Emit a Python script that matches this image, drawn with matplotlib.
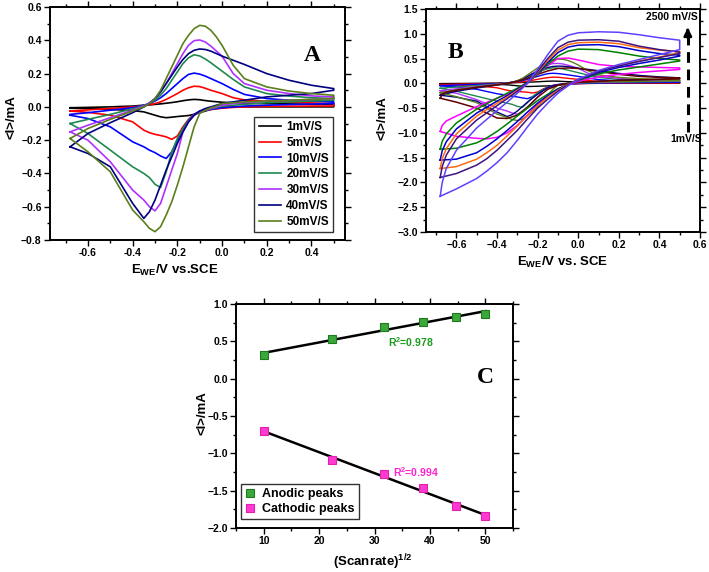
import numpy as np
import matplotlib
matplotlib.use('Agg')
import matplotlib.pyplot as plt
from matplotlib.ticker import MultipleLocator

plt.rcParams['font.family'] = ['Liberation Sans', 'DejaVu Sans']
plt.rcParams['font.weight'] = 'bold'
plt.rcParams['axes.labelweight'] = 'bold'
plt.rcParams['mathtext.fontset'] = 'custom'
plt.rcParams['mathtext.rm'] = 'Liberation Sans:bold'
plt.rcParams['mathtext.bf'] = 'Liberation Sans:bold'
plt.rcParams['mathtext.default'] = 'rm'

# ---- panel A / slow scans (potential grids in V vs SCE) ----
E_UP = [-0.68, -0.6, -0.5, -0.4, -0.35, -0.325, -0.3, -0.275, -0.25, -0.225, -0.2, -0.175, -0.15,
        -0.125, -0.1, -0.075, -0.05, -0.025, 0.0, 0.05, 0.1, 0.2, 0.3, 0.4, 0.5]
E_DOWN = [0.5, 0.4, 0.3, 0.2, 0.1, 0.05, 0.0, -0.025, -0.05, -0.075, -0.1, -0.125, -0.15, -0.175,
          -0.2, -0.225, -0.25, -0.275, -0.3, -0.325, -0.35, -0.4, -0.5, -0.6, -0.68]

up_1 = [-0.005, -0.003, 0.0, 0.005, 0.01, 0.012, 0.015, 0.018, 0.022, 0.026, 0.031, 0.037, 0.042,
        0.045, 0.043, 0.038, 0.034, 0.031, 0.028, 0.025, 0.022, 0.02, 0.018, 0.016, 0.015]
dn_1 = [0.0, 0.0, 0.0, 0.0, 0.0, 0.0, -0.003, -0.008, -0.015, -0.025, -0.035, -0.045, -0.052,
        -0.055, -0.058, -0.062, -0.065, -0.06, -0.05, -0.04, -0.03, -0.022, -0.015, -0.01, -0.008]
up_5 = [-0.025, -0.018, -0.01, 0.0, 0.008, 0.013, 0.02, 0.03, 0.045, 0.062, 0.08, 0.1, 0.115,
        0.124, 0.122, 0.112, 0.1, 0.09, 0.08, 0.055, 0.042, 0.034, 0.029, 0.024, 0.02]
dn_5 = [0.005, 0.005, 0.004, 0.003, 0.0, -0.003, -0.008, -0.012, -0.016, -0.02, -0.03, -0.045, -0.075,
        -0.12, -0.175, -0.195, -0.18, -0.172, -0.165, -0.155, -0.14, -0.09, -0.05, -0.033, -0.025]
up_10 = [-0.045, -0.035, -0.02, -0.005, 0.01, 0.02, 0.035, 0.055, 0.08, 0.11, 0.14, 0.17, 0.195,
         0.203, 0.197, 0.185, 0.17, 0.155, 0.14, 0.105, 0.075, 0.05, 0.04, 0.035, 0.03]
dn_10 = [0.02, 0.017, 0.014, 0.01, 0.005, 0.0, -0.005, -0.01, -0.015, -0.02, -0.025, -0.045, -0.08,
         -0.13, -0.2, -0.27, -0.31, -0.295, -0.275, -0.26, -0.24, -0.21, -0.12, -0.07, -0.05]
up_20 = [-0.1, -0.075, -0.045, -0.012, 0.008, 0.022, 0.04, 0.07, 0.11, 0.16, 0.21, 0.26, 0.295,
         0.313, 0.306, 0.288, 0.265, 0.24, 0.215, 0.165, 0.12, 0.08, 0.065, 0.055, 0.05]
dn_20 = [0.04, 0.035, 0.03, 0.025, 0.015, 0.01, 0.005, -0.005, -0.012, -0.02, -0.03, -0.05, -0.08,
         -0.13, -0.19, -0.27, -0.39, -0.485, -0.465, -0.425, -0.4, -0.36, -0.26, -0.16, -0.1]
up_30 = [-0.15, -0.11, -0.065, -0.02, 0.005, 0.025, 0.05, 0.09, 0.14, 0.2, 0.26, 0.32, 0.37,
         0.398, 0.402, 0.39, 0.365, 0.335, 0.305, 0.2, 0.14, 0.1, 0.08, 0.066, 0.06]
dn_30 = [0.05, 0.045, 0.04, 0.035, 0.025, 0.02, 0.01, 0.0, -0.01, -0.02, -0.03, -0.05, -0.09,
         -0.15, -0.28, -0.38, -0.48, -0.58, -0.625, -0.6, -0.56, -0.5, -0.33, -0.2, -0.15]
up_40 = [-0.24, -0.16, -0.095, -0.035, 0.0, 0.02, 0.05, 0.09, 0.14, 0.19, 0.24, 0.285, 0.32,
         0.34, 0.348, 0.345, 0.335, 0.32, 0.305, 0.28, 0.255, 0.2, 0.16, 0.13, 0.11]
dn_40 = [0.1, 0.08, 0.07, 0.06, 0.04, 0.03, 0.02, 0.01, 0.0, -0.01, -0.025, -0.05, -0.09,
         -0.15, -0.22, -0.3, -0.38, -0.47, -0.56, -0.63, -0.67, -0.58, -0.36, -0.28, -0.24]
up_50 = [-0.19, -0.13, -0.075, -0.025, 0.0, 0.02, 0.05, 0.1, 0.17, 0.24, 0.31, 0.38, 0.43,
         0.47, 0.49, 0.485, 0.46, 0.42, 0.37, 0.25, 0.17, 0.12, 0.095, 0.08, 0.07]
dn_50 = [0.05, 0.045, 0.04, 0.035, 0.03, 0.025, 0.02, 0.005, -0.005, -0.02, -0.04, -0.12, -0.24,
         -0.36, -0.47, -0.57, -0.65, -0.72, -0.75, -0.73, -0.69, -0.62, -0.39, -0.27, -0.19]

slow_labels = ['1mV/S', '5mV/S', '10mV/S', '20mV/S', '30mV/S', '40mV/S', '50mV/S']
slow_colors = ['#000000', '#ff0000', '#0000ff', '#1f8a50', '#b030ff', '#000080', '#5b7f1a']
slow_up = [up_1, up_5, up_10, up_20, up_30, up_40, up_50]
slow_dn = [dn_1, dn_5, dn_10, dn_20, dn_30, dn_40, dn_50]

# ---- panel B / fast scans ----
E_UP_B = [-0.68, -0.67, -0.65, -0.6, -0.5, -0.4, -0.35, -0.3, -0.25, -0.2, -0.15, -0.1, -0.05,
          0.0, 0.1, 0.2, 0.3, 0.4, 0.5]
E_DOWN_B = [0.5, 0.4, 0.3, 0.2, 0.1, 0.0, -0.05, -0.1, -0.15, -0.2, -0.25, -0.3, -0.35, -0.4,
            -0.45, -0.5, -0.6, -0.68]

up_100 = [-0.3, -0.22, -0.18, -0.14, -0.08, -0.03, 0.0, 0.04, 0.1, 0.18, 0.25, 0.3, 0.31, 0.3,
          0.24, 0.18, 0.14, 0.12, 0.11]
dn_100 = [0.09, 0.08, 0.07, 0.06, 0.04, 0.02, 0.0, -0.04, -0.12, -0.28, -0.48, -0.64, -0.71, -0.7,
          -0.6, -0.5, -0.38, -0.3]
up_500 = [-0.97, -0.85, -0.76, -0.66, -0.47, -0.3, -0.22, -0.12, 0.02, 0.18, 0.36, 0.5, 0.51, 0.47,
          0.38, 0.34, 0.33, 0.32, 0.31]
dn_500 = [0.28, 0.25, 0.22, 0.18, 0.13, 0.04, -0.03, -0.12, -0.25, -0.42, -0.64, -0.85, -1.0, -1.09,
          -1.12, -1.11, -1.07, -0.97]
up_1000 = [-1.33, -1.17, -1.02, -0.8, -0.52, -0.3, -0.2, -0.1, 0.02, 0.18, 0.38, 0.55, 0.65, 0.69,
           0.68, 0.62, 0.55, 0.5, 0.47]
dn_1000 = [0.45, 0.39, 0.33, 0.27, 0.19, 0.06, -0.02, -0.11, -0.22, -0.35, -0.5, -0.66, -0.82, -0.97,
           -1.1, -1.2, -1.31, -1.33]
up_1500 = [-1.55, -1.36, -1.18, -0.92, -0.6, -0.36, -0.25, -0.12, 0.01, 0.2, 0.42, 0.62, 0.73, 0.77,
           0.78, 0.74, 0.66, 0.6, 0.57]
dn_1500 = [0.55, 0.47, 0.4, 0.32, 0.22, 0.07, -0.02, -0.12, -0.25, -0.4, -0.58, -0.77, -0.95, -1.12,
           -1.27, -1.4, -1.53, -1.55]
up_2000 = [-1.72, -1.52, -1.32, -1.02, -0.66, -0.4, -0.28, -0.14, 0.0, 0.22, 0.46, 0.67, 0.78, 0.82,
           0.83, 0.8, 0.72, 0.67, 0.64]
dn_2000 = [0.62, 0.53, 0.45, 0.36, 0.25, 0.08, -0.02, -0.14, -0.28, -0.45, -0.65, -0.86, -1.06, -1.25,
           -1.4, -1.53, -1.68, -1.72]
up_2500 = [-1.9, -1.68, -1.45, -1.12, -0.74, -0.45, -0.31, -0.16, 0.0, 0.24, 0.5, 0.72, 0.83, 0.87,
           0.88, 0.85, 0.75, 0.68, 0.63]
dn_2500 = [0.6, 0.52, 0.44, 0.35, 0.24, 0.08, -0.03, -0.16, -0.32, -0.5, -0.72, -0.95, -1.15, -1.35,
           -1.52, -1.65, -1.82, -1.9]
up_top = [-2.28, -2.0, -1.72, -1.35, -0.9, -0.55, -0.38, -0.2, 0.0, 0.28, 0.58, 0.85, 0.97, 1.02,
          1.04, 1.03, 0.98, 0.92, 0.87]
dn_top = [0.68, 0.58, 0.48, 0.38, 0.26, 0.08, -0.05, -0.2, -0.4, -0.62, -0.88, -1.15, -1.4, -1.6,
          -1.77, -1.92, -2.13, -2.28]

fast_colors = ['#600000', '#ff00ff', '#008000', '#0000cc', '#ff6a10', '#3c1480', '#6040ff']
fast_up = [up_100, up_500, up_1000, up_1500, up_2000, up_2500, up_top]
fast_dn = [dn_100, dn_500, dn_1000, dn_1500, dn_2000, dn_2500, dn_top]

# ---- panel C / peak currents ----
sqrt_rate = [10, 22.36, 31.62, 38.73, 44.72, 50]
anodic = [0.315, 0.53, 0.69, 0.76, 0.83, 0.87]
cathodic = [-0.70, -1.09, -1.28, -1.47, -1.70, -1.84]


def style(ax, xmaj, xmin, ymaj, ymin):
    ax.xaxis.set_major_locator(MultipleLocator(xmaj))
    ax.xaxis.set_minor_locator(MultipleLocator(xmin))
    ax.yaxis.set_major_locator(MultipleLocator(ymaj))
    ax.yaxis.set_minor_locator(MultipleLocator(ymin))
    ax.tick_params(which='both', direction='out', top=True, right=True, width=1.0,
                   labelsize=7.5, pad=2)
    ax.tick_params(which='major', length=4)
    ax.tick_params(which='minor', length=2)
    for s in ax.spines.values():
        s.set_linewidth(1.4)


fig = plt.figure(figsize=(7.09, 5.72), dpi=100)

# A
axA = fig.add_axes([0.0705, 0.5804, 0.416, 0.4073])
for up, dn, c, lab in zip(slow_up, slow_dn, slow_colors, slow_labels):
    axA.plot(E_UP + E_DOWN, up + dn, color=c, lw=1.2, label=lab)
axA.set_xlim(-0.77, 0.55)
axA.set_ylim(-0.8, 0.6)
style(axA, 0.2, 0.1, 0.2, 0.1)
axA.xaxis.set_major_formatter(plt.FormatStrFormatter('%.1f'))
leg = axA.legend(loc='lower right', bbox_to_anchor=(0.96, 0.035), fontsize=8.5, frameon=True,
                 fancybox=False, edgecolor='k', handlelength=1.9, labelspacing=0.32,
                 borderaxespad=0, handletextpad=0.45, borderpad=0.35)
leg.get_frame().set_linewidth(1.0)
axA.text(0.888, 0.794, 'A', transform=axA.transAxes, family='Liberation Serif', fontsize=17,
         fontweight='bold', ha='center', va='center')
fig.text(0.016, 0.795, '<I>/mA', rotation=90, ha='center', va='center', fontsize=9.5)
fig.text(0.247, 0.528, r'E$_{WE}$/V vs.SCE', ha='center', va='center', fontsize=9.5)

# B
axB = fig.add_axes([0.6008, 0.5944, 0.3865, 0.3899])
for up, dn, c in zip(slow_up, slow_dn, slow_colors):
    axB.plot(E_UP + E_DOWN, up + dn, color=c, lw=1.0)
for up, dn, c in zip(fast_up, fast_dn, fast_colors):
    axB.plot(E_UP_B + E_DOWN_B, up + dn, color=c, lw=1.1)
axB.set_xlim(-0.75, 0.6)
axB.set_ylim(-3.0, 1.5)
style(axB, 0.2, 0.1, 0.5, 0.25)
axB.plot([0.54, 0.54], [-0.98, 1.02], color='k', lw=2.2, ls=(0, (3.5, 2.2)))
axB.annotate('', xy=(0.54, 1.18), xytext=(0.54, 1.0),
             arrowprops=dict(arrowstyle='-|>', color='k', lw=2.0, mutation_scale=11))
axB.text(0.46, 1.33, '2500 mV/S', ha='center', va='center', fontsize=7.5)
axB.text(0.53, -1.12, '1mV/S', ha='center', va='center', fontsize=7.5)
axB.text(0.106, 0.807, 'B', transform=axB.transAxes, family='Liberation Serif', fontsize=17,
         fontweight='bold', ha='center', va='center')
fig.text(0.540, 0.794, '<I>/mA', rotation=90, ha='center', va='center', fontsize=9.5)
fig.text(0.794, 0.542, r'E$_{WE}$/V vs. SCE', ha='center', va='center', fontsize=9.5)

# C
axC = fig.add_axes([0.3329, 0.0769, 0.3907, 0.3916])
xs = np.array(sqrt_rate)
fa = np.polyfit(xs, anodic, 1)
fc = np.polyfit(xs, cathodic, 1)
axC.plot(xs, np.polyval(fa, xs), color='k', lw=1.8)
axC.plot(xs, np.polyval(fc, xs), color='k', lw=1.8)
axC.plot(sqrt_rate, anodic, 's', ms=6, mfc='#3aa83a', mec='#1f7a1f', mew=0.8, ls='none',
         label='Anodic peaks')
axC.plot(sqrt_rate, cathodic, 's', ms=6, mfc='#ff3ad0', mec='#e020b0', mew=0.8, ls='none',
         label='Cathodic peaks')
axC.set_xlim(5, 55)
axC.set_ylim(-2.0, 1.0)
style(axC, 10, 5, 0.5, 0.25)
legC = axC.legend(loc='lower left', bbox_to_anchor=(0.018, 0.04), fontsize=9, frameon=True,
                  fancybox=False, edgecolor='k', handlelength=0.8, borderaxespad=0,
                  handletextpad=0.6, labelspacing=0.25, borderpad=0.3, markerscale=0.85)
legC.get_frame().set_linewidth(1.0)
axC.text(32.5, 0.49, r'R$^2$=0.978', color='#1a9a1a', fontsize=7.5, ha='left', va='center')
axC.text(33.3, -1.25, r'R$^2$=0.994', color='#ff20d0', fontsize=7.5, ha='left', va='center')
axC.text(0.9, 0.674, 'C', transform=axC.transAxes, family='Liberation Serif', fontsize=17,
         fontweight='bold', ha='center', va='center')
fig.text(0.285, 0.278, '<I>/mA', rotation=90, ha='center', va='center', fontsize=9.5)
fig.text(0.526, 0.018, r'(Scanrate)$^{1/2}$', ha='center', va='center', fontsize=9.5)

fig.savefig('out.png', dpi=100)
